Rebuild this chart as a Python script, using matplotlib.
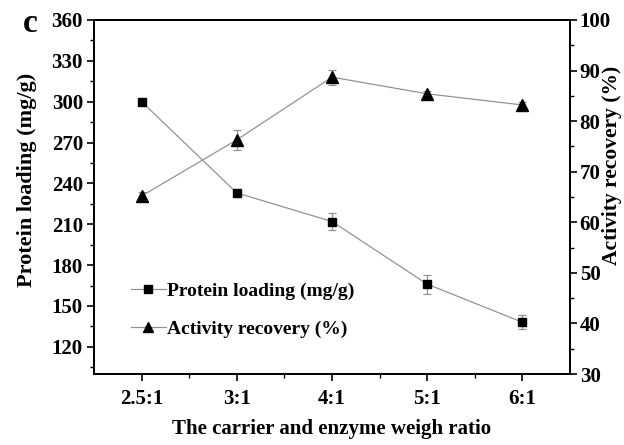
import numpy as np
import matplotlib
matplotlib.use("Agg")
import matplotlib.pyplot as plt
from matplotlib.ticker import MultipleLocator

plt.rcParams["font.family"] = ["Liberation Serif", "DejaVu Serif"]
plt.rcParams["font.weight"] = "bold"

# carrier : enzyme weight ratios
ratios = ["2.5:1", "3:1", "4:1", "5:1", "6:1"]
protein_loading = [300, 233, 212, 166, 138]     # mg/g
protein_err = [1, 2, 6, 7, 5]
activity_recovery = [65.2, 76.3, 88.7, 85.4, 83.2]  # %
activity_err = [0.8, 2.0, 1.5, 0.6, 0.6]

LINE = "#939393"

fig = plt.figure(figsize=(6.24, 4.45), dpi=100, facecolor="white")
ax1 = fig.add_axes([94 / 624, 1 - 374 / 445, 476 / 624, 354 / 445])
ax2 = ax1.twinx()

x = np.arange(1, len(ratios) + 1)

ax1.errorbar(x, protein_loading, yerr=protein_err, color=LINE, lw=0.9,
             ecolor=LINE, elinewidth=0.9, capsize=3, capthick=0.9,
             marker="s", ms=6, mfc="black", mec="black", zorder=3)
ax2.errorbar(x, activity_recovery, yerr=activity_err, color=LINE, lw=0.9,
             ecolor=LINE, elinewidth=0.9, capsize=3, capthick=0.9,
             marker="^", ms=8, mfc="black", mec="black", zorder=3)

ax1.set_xlim(0.5, 5.5)
ax1.set_xticks(x)
ax1.set_xticklabels(ratios)
ax1.set_xticks(np.arange(1.5, 5.5, 1), minor=True)

ax1.set_ylim(100, 360)
ax1.yaxis.set_minor_locator(MultipleLocator(15))
ax1.set_yticks(np.arange(120, 361, 30))

ax2.set_ylim(30, 100)
ax2.yaxis.set_major_locator(MultipleLocator(10))
ax2.yaxis.set_minor_locator(MultipleLocator(5))

for ax in (ax1, ax2):
    for s in ax.spines.values():
        s.set_linewidth(1.3)
    ax.tick_params(which="major", direction="out", length=5, width=1.2,
                   labelsize=15)
    ax.tick_params(which="minor", direction="out", length=3, width=1.0)
ax1.tick_params(axis="x", pad=6)
ax1.tick_params(axis="y", pad=3)
ax2.tick_params(axis="y", pad=2)

ax1.set_xlabel("The carrier and enzyme weigh ratio", fontsize=15,
               fontweight="bold", labelpad=7)
ax1.set_ylabel("Protein loading (mg/g)", fontsize=16, fontweight="bold")
ax2.set_ylabel("Activity recovery (%)", fontsize=15.5, fontweight="bold")
ax1.yaxis.set_label_coords(-0.12, 0.548)
ax2.yaxis.set_label_coords(1.068, 0.59)

# combined legend, no frame
handles = [
    plt.Line2D([], [], color=LINE, lw=0.9, marker="s", ms=6, mfc="black",
               mec="black"),
    plt.Line2D([], [], color=LINE, lw=0.9, marker="^", ms=7, mfc="black",
               mec="black"),
]
ax1.legend(handles, ["Protein loading (mg/g)", "Activity recovery (%)"],
           loc="lower left", bbox_to_anchor=(0.04, 0.052), frameon=False,
           handlelength=1.8, handletextpad=0.1, labelspacing=1.05,
           prop={"weight": "bold", "size": 14})

fig.text(30 / 624, 1 - 23 / 445, "c", fontsize=24, fontweight="bold",
         ha="center", va="center")

fig.savefig("out.png", dpi=100, facecolor="white")
